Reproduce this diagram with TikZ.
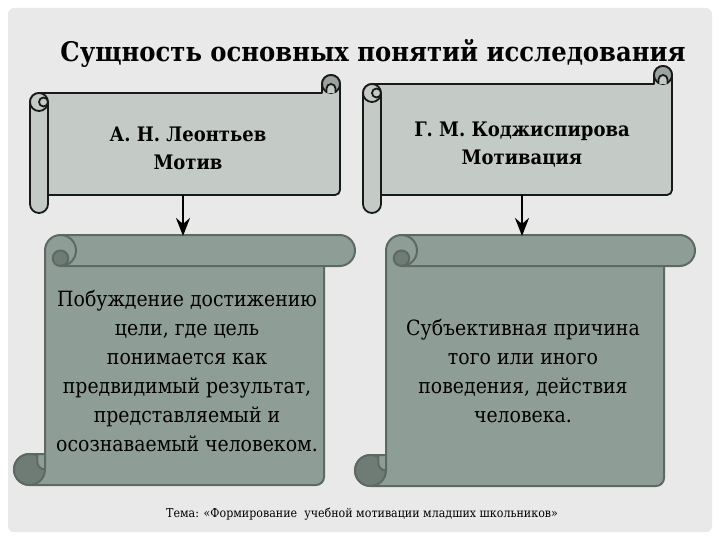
\documentclass[tikz,border=0pt]{standalone}
\usepackage{fontspec}
\IfFontExistsTF{DejaVu Serif Condensed}{%
  \setmainfont{DejaVu Serif Condensed}}{%
  \setmainfont{DejaVu Serif}}
\usetikzlibrary{arrows.meta}

\definecolor{panelgray}{HTML}{E9E9E9}
\definecolor{toplight}{HTML}{C4CBC7}
\definecolor{topdark}{HTML}{9BA3A0}
\definecolor{botfill}{HTML}{8E9D96}
\definecolor{botdark}{HTML}{6F7C76}
\definecolor{botline}{HTML}{5C6A63}

\tikzset{
  headscroll/.style={draw=black!90, line width=1.8pt, fill=toplight, line join=round},
  headline/.style={draw=black!90, line width=1.8pt},
  headcurl/.style={draw=black!90, line width=1.8pt, fill=topdark},
  bodyscroll/.style={draw=botline, line width=2pt, fill=botfill, line join=round},
  bodyline/.style={draw=botline, line width=2pt},
  bodycurl/.style={draw=botline, line width=2pt, fill=botdark},
  headtext/.style={font=\fontsize{20}{28}\selectfont\bfseries, align=center},
  bodytext/.style={font=\fontsize{21}{29}\selectfont, align=center},
  linkarrow/.style={line width=2.5pt, -{Stealth[length=18pt,width=14pt,inset=6pt]}}
}

% horizontal scroll: left, top, right, bottom
\newcommand{\headroll}[4]{%
  \draw[headscroll] ({#1},{#4-9}) -- ({#1},{#2+27}) arc[start angle=180,end angle=270,radius=9]
    -- ({#3-18},{#2+18}) -- ({#3-18},{#2+9}) arc[start angle=180,end angle=360,radius=9]
    -- ({#3},{#4-23}) arc[start angle=0,end angle=90,radius=5]
    -- ({#1+18},{#4-18}) -- ({#1+18},{#4-9}) arc[start angle=0,end angle=180,radius=9] -- cycle;
  \draw[headscroll] ({#1+9},{#2+27}) circle[radius=9];
  \draw[headscroll] ({#1+13.5},{#2+27}) circle[radius=4.5];
  \draw[headline] ({#1+18},{#2+27}) -- ({#1+18},{#4-18});
  \draw[headcurl] ({#3-9},{#2+9}) circle[radius=9];
  \draw[headscroll] ({#3-13.5},{#2+18}) -- ({#3-13.5},{#2+13.5}) arc[start angle=180,end angle=360,radius=4.5] -- ({#3-4.5},{#2+18});
}

% vertical scroll: left, top, right, bottom
\newcommand{\bodyroll}[4]{%
  \draw[bodyscroll] ({#1+46.5},{#2}) -- ({#3-15.5},{#2}) arc[start angle=270,end angle=450,radius=15.5]
    -- ({#3-31},{#2+31}) -- ({#3-31},{#4-8}) arc[start angle=0,end angle=90,radius=8]
    -- ({#1+15.5},{#4}) arc[start angle=90,end angle=270,radius=15.5]
    -- ({#1+31},{#4-31}) -- ({#1+31},{#2+15.5}) arc[start angle=180,end angle=270,radius=15.5] -- cycle;
  \draw[bodycurl] ({#1+46.5},{#2+23.25}) circle[radius=7.75];
  \draw[bodyline] ({#1+46.5},{#2}) arc[start angle=270,end angle=450,radius=15.5] -- ({#3-31},{#2+31});
  \draw[bodycurl] ({#1+15.5},{#4-15.5}) circle[radius=15.5];
  \draw[bodyscroll] ({#1+23.25},{#4-31}) -- ({#1+31},{#4-31}) -- ({#1+31},{#4-15.5}) arc[start angle=90,end angle=180,radius=7.75] -- cycle;
}

\begin{document}
\begin{tikzpicture}[x=1pt,y=-1pt]
    \useasboundingbox (0,0) rectangle (720,540);
    \fill[white] (0,0) rectangle (720,540);
    \fill[panelgray, rounded corners=6pt] (8,8) rectangle (712,532);

    \node[font=\fontsize{27}{34}\selectfont\bfseries, anchor=base] (title) at (373,62) {Сущность основных понятий исследования};

    \headroll{30}{75}{340}{213}
    \headroll{363}{66}{672}{213}

    \node[headtext] (leontiev) at (188,148) {А. Н. Леонтьев\\Мотив};
    \node[headtext] (kodzh) at (522,145) {Г. М. Коджиспирова\\Мотивация};

    \bodyroll{14}{235}{355}{485}
    \bodyroll{355}{235}{695}{486}

    \node[bodytext] (motivdef) at (187,371) {Побуждение достижению\\цели, где цель\\понимается как\\предвидимый результат,\\представляемый и\\осознаваемый человеком.};
    \node[bodytext] (motivaciyadef) at (523,371) {Субъективная причина\\того или иного\\поведения, действия\\человека.};

    \coordinate (leoOut) at (183,195);
    \coordinate (leoIn) at (183,236);
    \coordinate (kodOut) at (522,195);
    \coordinate (kodIn) at (522,236);
    \draw[linkarrow] (leoOut) -- (leoIn);
    \draw[linkarrow] (kodOut) -- (kodIn);

    \node[font=\fontsize{12.3}{14}\selectfont, anchor=base] (theme) at (362,517) {Тема: «Формирование\ \ учебной мотивации младших школьников»};
\end{tikzpicture}
\end{document}
